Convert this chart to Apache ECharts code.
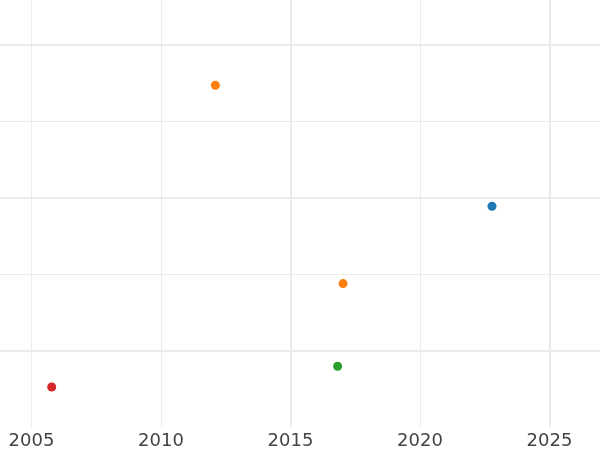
<!DOCTYPE html>
<html>
<head>
<meta charset="utf-8">
<script src="https://cdn.jsdelivr.net/npm/echarts@6/dist/echarts.min.js"></script>
<style>html,body{margin:0;padding:0;background:#fff}#c{width:600px;height:450px}</style>
</head>
<body>
<div id="c"></div>
<script>
// Data (x = year, y = unlabelled value)
const blueX = [2022.78];
const blueY = [1.89];
const orangeX = [2012.1, 2017.03];
const orangeY = [3.47, 0.88];
const greenX = [2016.82];
const greenY = [-0.2];
const redX = [2005.78];
const redY = [-0.47];
const xTicks = [2005, 2010, 2015, 2020, 2025];
const yTicks = [0, 1, 2, 3, 4];
const majorX = [2015, 2025];
const majorY = [0, 2, 4];

const pairs = (xs, ys) => xs.map((x, i) => [x, ys[i]]);
const mk = (name, color, xs, ys) => ({
  name, type: 'scatter', symbolSize: 9, z: 5,
  itemStyle: { color, opacity: 1 },
  data: pairs(xs, ys)
});

const chart = echarts.init(document.getElementById('c'), null, { renderer: 'canvas' });
chart.setOption({
  animation: false,
  backgroundColor: '#ffffff',
  grid: { left: 0, right: 0, top: 0, bottom: 23, containLabel: false },
  xAxis: {
    type: 'value', min: 2003.784, max: 2026.95,
    axisLine: { show: false },
    axisTick: { show: false, customValues: xTicks },
    axisLabel: {
      color: '#444444', fontSize: 18, fontFamily: 'DejaVu Sans', margin: 5,
      customValues: xTicks, formatter: v => String(v)
    },
    splitLine: { show: true, lineStyle: { color: '#ececec', width: 1 } }
  },
  yAxis: {
    type: 'value', min: -0.993, max: 4.584,
    axisLine: { show: false },
    axisTick: { show: false, customValues: yTicks },
    axisLabel: { show: false, customValues: yTicks },
    splitLine: { show: true, lineStyle: { color: '#ececec', width: 1 } }
  },
  series: [
    {
      type: 'scatter', data: [], z: 1, silent: true,
      markLine: {
        silent: true, symbol: 'none', label: { show: false }, animation: false,
        lineStyle: { color: '#ebebeb', width: 2, type: 'solid' },
        data: majorX.map(x => ({ xAxis: x })).concat(majorY.map(y => ({ yAxis: y })))
      }
    },
    mk('blue', '#1f77b4', blueX, blueY),
    mk('orange', '#ff7f0e', orangeX, orangeY),
    mk('green', '#2ca02c', greenX, greenY),
    mk('red', '#d62728', redX, redY)
  ]
});
</script>
</body>
</html>
